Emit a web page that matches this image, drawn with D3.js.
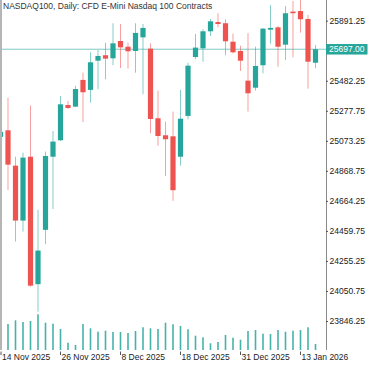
<!DOCTYPE html>
<html><head><meta charset="utf-8">
<script src="https://cdn.jsdelivr.net/npm/d3@7"></script>
<style>html,body{margin:0;padding:0;background:#fff;}svg{display:block;}</style>
</head><body>
<svg id="c" width="375" height="366"></svg>
<script>
const title = "NASDAQ100, Daily: CFD E-Mini Nasdaq 100 Contracts";
const dates = ["2025-11-14","2025-11-17","2025-11-18","2025-11-19","2025-11-20","2025-11-21",
"2025-11-24","2025-11-25","2025-11-26","2025-11-27","2025-11-28",
"2025-12-01","2025-12-02","2025-12-03","2025-12-04","2025-12-05",
"2025-12-08","2025-12-09","2025-12-10","2025-12-11","2025-12-12",
"2025-12-15","2025-12-16","2025-12-17","2025-12-18","2025-12-19",
"2025-12-22","2025-12-23","2025-12-24","2025-12-26",
"2025-12-29","2025-12-30","2025-12-31","2026-01-02",
"2026-01-05","2026-01-06","2026-01-07","2026-01-08","2026-01-09",
"2026-01-12","2026-01-13","2026-01-14","2026-01-15"];
const open  = [25100,25145,24904,24530,24965,24097,24467,24965,25077,25317,25306,25488,25420,25619,25656,25635,25753,25714,25685,25778,25701,25227,25111,25104,24965,25243,25644,25703,25819,25882,25874,25748,25685,25483,25435,25588,25830,25846,25728,25953,25957,25903,25605];
const high  = [25150,25367,24965,24993,25313,24603,25000,25140,25379,25345,25447,25537,25676,25692,25742,25874,25869,25742,25874,25869,25737,25415,25204,25272,25420,25605,25801,25833,25903,25942,25901,25803,25721,25806,25714,25842,25998,25855,25991,26025,26040,25930,25726];
const low   = [25080,24739,24387,24455,24080,23910,24369,24609,25072,25290,25302,25200,25333,25424,25492,25588,25569,25565,25537,25390,25125,25040,24834,24664,24904,25220,25629,25612,25787,25846,25656,25669,25549,25272,25415,25533,25735,25578,25624,25642,25810,25429,25567];
const close = [25134,24911,24530,24959,24087,24326,24970,25068,25322,25297,25426,25404,25608,25651,25633,25737,25710,25683,25808,25842,25222,25106,25084,24737,25224,25585,25708,25819,25887,25869,25751,25676,25619,25397,25583,25837,25842,25714,25942,25942,25901,25612,25697];
const volume = [280000,260000,297000,280000,290000,357000,273000,263000,210000,73000,50000,260000,217000,183000,193000,180000,180000,170000,190000,227000,217000,210000,273000,257000,240000,207000,143000,127000,67000,80000,150000,123000,103000,190000,200000,163000,160000,200000,183000,193000,200000,227000,60000];
const priceTicks = [25891.25,25482.25,25277.75,25073.25,24868.75,24664.25,24459.75,24255.25,24050.75,23846.25];
const lastPrice = 25697.00;
const labelEvery = 8;

const UP = "#26a69a", DN = "#ef5350";
const svg = d3.select("#c");
const font = "Liberation Sans, Arial, sans-serif";
const fs = 8.5;
const plotR = 326, volBase = 350;

const x = d3.scaleLinear().domain([0, dates.length - 1]).range([0.5, 0.5 + 7.5 * (dates.length - 1)]);
const y = d3.scaleLinear().domain([23846.25, 25891.25]).range([321, 20.7]);
const yv = d3.scaleLinear().domain([0, d3.max(volume)]).range([volBase, 314.3]);

const idx = d3.range(dates.length);

// volume
svg.append("g").selectAll("rect").data(idx).join("rect")
  .attr("x", i => x(i) - 0.8).attr("width", 1.6)
  .attr("y", i => yv(volume[i])).attr("height", i => volBase - yv(volume[i]))
  .attr("fill", UP).attr("opacity", 0.85);

// last price line
svg.append("line").attr("x1", 0).attr("x2", plotR)
  .attr("y1", y(lastPrice)).attr("y2", y(lastPrice))
  .attr("stroke", "#80cbc4").attr("stroke-width", 1);

// candles
const g = svg.append("g");
g.selectAll("line.w").data(idx).join("line").attr("class","w")
  .attr("x1", i => x(i)).attr("x2", i => x(i))
  .attr("y1", i => y(high[i])).attr("y2", i => y(low[i]))
  .attr("stroke", i => close[i] >= open[i] ? UP : DN)
  .attr("stroke-opacity", 0.55).attr("stroke-width", 1);
g.selectAll("rect.b").data(idx).join("rect").attr("class","b")
  .attr("x", i => x(i) - 2.6).attr("width", 5.2)
  .attr("y", i => y(Math.max(open[i], close[i])))
  .attr("height", i => Math.max(1, Math.abs(y(open[i]) - y(close[i]))))
  .attr("fill", i => close[i] >= open[i] ? UP : DN);

// borders
svg.append("rect").attr("x", 0).attr("y", 0).attr("width", 2).attr("height", volBase).attr("fill", "#b5b5b5");
svg.append("line").attr("x1", plotR + 0.5).attr("x2", plotR + 0.5).attr("y1", 0).attr("y2", volBase)
  .attr("stroke", "#8a8a8a").attr("stroke-width", 1);

// right axis
const ax = svg.append("g").attr("transform", `translate(${plotR},0)`)
  .call(d3.axisRight(y).tickValues(priceTicks).tickFormat(d3.format(".2f")).tickSize(2).tickPadding(1.5));
ax.select(".domain").remove();
ax.selectAll("line").attr("stroke", "#555");
ax.selectAll("text").attr("font-family", font).attr("font-size", fs).attr("fill", "#222");

// last price label
const ly = y(lastPrice);
svg.append("rect").attr("x", plotR).attr("y", ly - 5.2).attr("width", 41.5).attr("height", 10.5).attr("fill", UP);
svg.append("text").attr("x", plotR + 3).attr("y", ly).attr("dy", "0.35em")
  .attr("font-family", font).attr("font-size", fs).attr("fill", "#fff").text(d3.format(".2f")(lastPrice));

// bottom date axis
const parse = d3.timeParse("%Y-%m-%d"), fmt = d3.timeFormat("%-d %b %Y");
const labIdx = idx.filter(i => i % labelEvery === 0);
const bx = svg.append("g");
bx.selectAll("line").data(labIdx).join("line")
  .attr("x1", i => Math.max(1, x(i))).attr("x2", i => Math.max(1, x(i)))
  .attr("y1", 351.5).attr("y2", 355).attr("stroke", "#555");
bx.selectAll("text").data(labIdx).join("text")
  .attr("x", i => Math.max(1, x(i)) + 1).attr("y", 360)
  .attr("font-family", font).attr("font-size", fs).attr("fill", "#222")
  .text(i => fmt(parse(dates[i])));

// title
svg.append("text").attr("x", 3).attr("y", 8.5).attr("font-family", font).attr("font-size", fs)
  .attr("fill", "#333").text(title);
</script>
</body></html>
